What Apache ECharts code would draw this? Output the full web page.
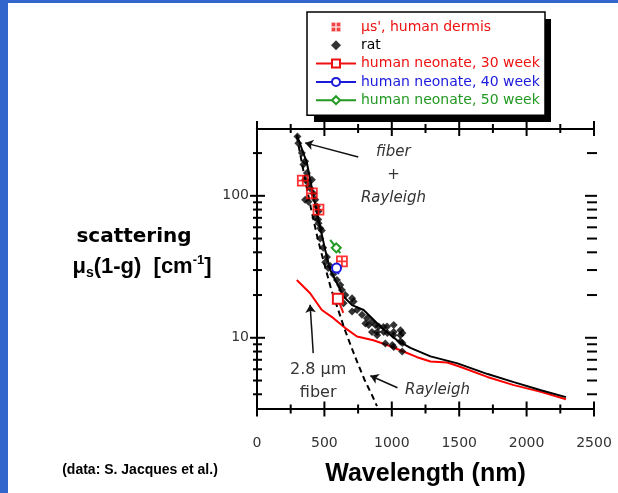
<!DOCTYPE html>
<html lang="en">
<head>
<meta charset="UTF-8">
<title>scattering vs wavelength</title>
<style>
  html, body { margin: 0; padding: 0; background: #fff; }
  #container { width: 618px; height: 493px; }
</style>
</head>
<body>
<div id="container"></div>
<script src="https://cdn.jsdelivr.net/npm/echarts@6/dist/echarts.min.js"></script>
<script>
// values: [wavelength nm, mu_s(1-g) cm^-1]
var dermisPts = [[340, 128], [407, 104], [456, 80], [630, 34.5]];
var ratPts = [
  [300, 262], [307, 235], [333, 200], [357, 175], [344, 166], [370, 145], [357, 130], [382, 123],
  [407, 130], [394, 113], [419, 104], [432, 94], [357, 94], [382, 91], [444, 84], [456, 78],
  [432, 70], [456, 64], [469, 59], [454, 68], [481, 57], [469, 50], [491, 43], [519, 37],
  [506, 34], [528, 31], [543, 32], [565, 28], [593, 25.5], [618, 23.5], [630, 21.7], [655, 20],
  [642, 17.5], [705, 19], [717, 18], [705, 15.3], [742, 15.7], [779, 14.5], [816, 13.7], [804, 12.6],
  [828, 12.3], [853, 13], [878, 12.3], [903, 12], [853, 11], [891, 11], [940, 11], [965, 12],
  [1014, 12.3], [1014, 11], [1064, 11.3], [1064, 10.4], [952, 9.1], [1014, 8.6], [1064, 9.4],
  [1077, 8], [891, 10.4], [938, 11.9], [967, 10.8], [1012, 10.4], [1079, 10.8], [1079, 9.2], [1004, 8.9]
];
var neo30 = [[600, 18.8], [640, 15]];
var neo40 = [[575, 33], [590, 31], [605, 28]];
var neo50 = [[543, 49], [588, 43], [618, 39.5]];
var fitLine = [
  [295, 269], [370, 171], [419, 99], [456, 68], [506, 41.6], [543, 30.1], [593, 24.2], [642, 19.5],
  [705, 17], [791, 15.7], [915, 12], [1039, 9.6], [1138, 8.5], [1287, 7.4], [1488, 6.6], [1711, 5.55],
  [1905, 4.87], [2106, 4.27], [2292, 3.82]
];
var fiberLine = [
  [295, 25.5], [394, 20.6], [481, 15.7], [565, 13.8], [655, 11.7], [742, 10.2], [863, 9.6], [965, 8.9],
  [1086, 8.0], [1188, 7.3], [1287, 6.8], [1411, 6.7], [1496, 6.3], [1709, 5.3], [1905, 4.64],
  [2106, 4.16], [2292, 3.69]
];
var rayleighLine = [
  [295, 265], [350, 140], [400, 82], [450, 50], [500, 33], [550, 22], [600, 16], [650, 11.5],
  [700, 8.6], [750, 6.5], [800, 5.0], [850, 4.0], [890, 3.3]
];

var X_MIN = 0, X_MAX = 2500;
var Y_MIN = 3.15, Y_MAX = 298;
var xMajorTicks = [0, 500, 1000, 1500, 2000, 2500];
var xMinorTicks = [250, 750, 1250, 1750, 2250];
var yMajorTicks = [10, 100];
var yMinorTicks = [4, 5, 6, 7, 8, 9, 20, 30, 40, 50, 60, 70, 80, 90, 200];

var names = {
  dermis: "\u03bcs', human dermis",
  rat: 'rat',
  n30: 'human neonate, 30 weeks',
  n40: 'human neonate, 40 weeks',
  n50: 'human neonate, 50 weeks'
};
var RED = '#ee1111', BLUE = '#1a1add', GREEN = '#229922';
var plusBox = 'path://M0,0 L10,0 L10,10 L0,10 Z M5,0 L5,10 M0,5 L10,5';

// legend box geometry (the hard shadow is a plain rect behind it)
var LEG_LEFT = 307, LEG_TOP = 12, LEG_W = 237, LEG_H = 103;

function withSymbolAt(pts, idx) {
  return pts.map(function (p, i) {
    return i === idx ? p : { value: p, symbol: 'none' };
  });
}

var xTickData = xMajorTicks.map(function (v) { return [v, Y_MIN, 1]; })
  .concat(xMinorTicks.map(function (v) { return [v, Y_MIN, 0]; }));
var yTickData = yMajorTicks.map(function (v) { return [X_MIN, v, 1]; })
  .concat(yMinorTicks.map(function (v) { return [X_MIN, v, 0]; }));

var tickStyle = { stroke: '#000', lineWidth: 2 };

function seg(x1, y1, x2, y2) {
  return { type: 'line', shape: { x1: x1, y1: y1, x2: x2, y2: y2 }, style: tickStyle };
}

var ele = document.getElementById('container');
var chart = echarts.init(ele, null, { renderer: 'canvas' });

var italicLabel = { show: true, position: 'inside', color: '#333', fontFamily: 'DejaVu Sans',
  fontStyle: 'italic', fontSize: 15, lineHeight: 23, formatter: '{b}' };

var option = {
  animation: false,
  backgroundColor: '#fff',
  grid: { left: 257, right: 24, top: 128.5, bottom: 84 },
  xAxis: [{
    type: 'value', min: X_MIN, max: X_MAX, interval: 500, position: 'bottom',
    axisLine: { onZero: false, lineStyle: { color: '#000', width: 2 } },
    axisTick: { show: false }, splitLine: { show: false },
    axisLabel: { margin: 27, color: '#333', fontSize: 14, fontFamily: 'DejaVu Sans',
      formatter: function (v) { return String(v); } },
    name: 'Wavelength (nm)', nameLocation: 'middle', nameGap: 53,
    nameTextStyle: { color: '#000', fontSize: 25, fontWeight: 'bold', fontFamily: 'Liberation Sans' }
  }, {
    type: 'value', min: X_MIN, max: X_MAX, position: 'top',
    axisLine: { onZero: false, lineStyle: { color: '#000', width: 2 } },
    axisTick: { show: false }, splitLine: { show: false }, axisLabel: { show: false }
  }],
  yAxis: [{
    type: 'log', logBase: 10, min: Y_MIN, max: Y_MAX, position: 'left',
    axisLine: { show: true, lineStyle: { color: '#000', width: 2 } },
    axisTick: { show: false }, splitLine: { show: false }, minorSplitLine: { show: false },
    axisLabel: { customValues: yMajorTicks, margin: 8, color: '#333', fontSize: 14, fontFamily: 'DejaVu Sans',
      formatter: function (v) { return String(Math.round(v)); } }
  }, {
    type: 'log', logBase: 10, min: Y_MIN, max: Y_MAX, position: 'right',
    axisLine: { show: true, lineStyle: { color: '#000', width: 2 } },
    axisTick: { show: false }, splitLine: { show: false }, axisLabel: { show: false }
  }],
  legend: {
    orient: 'vertical', left: LEG_LEFT, top: LEG_TOP, padding: [8, 0, 8, 8],
    itemGap: 4.3, itemWidth: 40, itemHeight: 10, selectedMode: false,
    backgroundColor: '#fff', borderColor: '#000', borderWidth: 1.5,
    textStyle: { fontFamily: 'DejaVu Sans', fontSize: 14, lineHeight: 14, width: 184,
      overflow: 'truncate', ellipsis: '' },
    data: [
      { name: names.dermis, textStyle: { color: RED }, itemStyle: { color: RED, borderColor: '#fff', borderWidth: 1.5 } },
      { name: names.rat, textStyle: { color: '#000' }, icon: 'path://M5,0 L10,5 L5,10 L0,5 Z' },
      { name: names.n30, textStyle: { color: RED } },
      { name: names.n40, textStyle: { color: BLUE } },
      { name: names.n50, textStyle: { color: GREEN } }
    ]
  },
  graphic: [
    { type: 'rect', shape: { x: 0, y: 0, width: 8, height: 493 }, style: { fill: '#3366cc' }, z: 100 },
    { type: 'rect', shape: { x: 0, y: 0, width: 618, height: 3 }, style: { fill: '#3366cc' }, z: 100 },
    { type: 'rect', shape: { x: LEG_LEFT + 7, y: LEG_TOP + 7, width: LEG_W, height: LEG_H }, style: { fill: '#000' }, z: 1 },
    { type: 'text', x: 134, y: 237, style: { text: 'scattering', fill: '#000',
      font: 'bold 20px "DejaVu Sans"', align: 'center', verticalAlign: 'middle' } },
    { type: 'text', x: 142, y: 267, style: {
      text: '{a|\u03bc}{sub|s}{a|(1-g)  [cm}{sup|-1}{a|]}', align: 'center', verticalAlign: 'middle',
      rich: {
        a: { fontFamily: 'Liberation Sans', fontWeight: 'bold', fontSize: 22, fill: '#000' },
        sub: { fontFamily: 'Liberation Sans', fontWeight: 'bold', fontSize: 14, fill: '#000', padding: [12, 0, 0, 0] },
        sup: { fontFamily: 'Liberation Sans', fontWeight: 'bold', fontSize: 13, fill: '#000', padding: [0, 0, 14, 0] }
      } } },
    { type: 'text', x: 140, y: 470, style: { text: '(data: S. Jacques et al.)', fill: '#000',
      font: 'bold 14px "Liberation Sans"', align: 'center', verticalAlign: 'middle' } }
  ],
  series: [{
    name: 'fiber', type: 'line', data: fiberLine, showSymbol: false, silent: true,
    lineStyle: { color: '#ff0000', width: 2 }, z: 2
  }, {
    name: 'fiber + Rayleigh', type: 'line', data: fitLine, showSymbol: false, silent: true,
    lineStyle: { color: '#000', width: 2 }, z: 3
  }, {
    name: 'Rayleigh', type: 'line', data: rayleighLine, showSymbol: false, silent: true,
    lineStyle: { color: '#000', width: 2, type: [6, 4] }, z: 3,
    markLine: {
      silent: true, symbol: ['none', 'arrow'], symbolSize: 8, label: { show: false },
      lineStyle: { color: '#111', width: 1.5, type: 'solid' },
      data: [
        [{ coord: [751, 188] }, { coord: [357, 236] }],
        [{ coord: [417, 7.8] }, { coord: [394, 17.1] }],
        [{ coord: [1042, 4.45] }, { coord: [841, 5.4] }]
      ]
    },
    markPoint: {
      silent: true, symbol: 'circle', symbolSize: 1, itemStyle: { color: 'rgba(0,0,0,0)' },
      data: [
        { name: 'fiber\n+\nRayleigh', coord: [1012, 140], label: italicLabel },
        { name: 'Rayleigh', coord: [1339, 4.31], label: italicLabel },
        { name: '2.8 \u03bcm\nfiber', coord: [454, 4.9], label: {
          show: true, position: 'inside', color: '#333', fontFamily: 'DejaVu Sans',
          fontSize: 16, lineHeight: 23, formatter: '{b}' } }
      ]
    }
  }, {
    name: names.rat, type: 'scatter', data: ratPts, symbol: 'diamond', symbolSize: 8,
    itemStyle: { color: '#000' }, z: 4
  }, {
    name: names.dermis, type: 'scatter', data: dermisPts, symbol: plusBox, symbolSize: 10,
    itemStyle: { color: 'rgba(0,0,0,0)', borderColor: '#ff0000', borderWidth: 1.8 }, z: 5
  }, {
    name: names.n30, type: 'line', data: withSymbolAt(neo30, 0), symbol: 'emptyRect', symbolSize: 10,
    itemStyle: { color: RED, borderWidth: 1.6 }, lineStyle: { color: RED, width: 2 }, z: 6
  }, {
    name: names.n40, type: 'line', data: withSymbolAt(neo40, 1), symbol: 'emptyCircle', symbolSize: 9,
    itemStyle: { color: BLUE, borderWidth: 1.6 }, lineStyle: { color: BLUE, width: 2 }, z: 6
  }, {
    name: names.n50, type: 'line', data: withSymbolAt(neo50, 1), symbol: 'emptyDiamond', symbolSize: 9,
    itemStyle: { color: GREEN, borderWidth: 1.6 }, lineStyle: { color: GREEN, width: 2 }, z: 6
  }, {
    // axis ticks, crossing the frame, drawn through the axes
    type: 'custom', data: xTickData, clip: false, silent: true, z: 10,
    renderItem: function (params, api) {
      var v = api.value(0), major = api.value(2);
      var b = api.coord([v, Y_MIN]), t = api.coord([v, Y_MAX]);
      var len = major ? 7.5 : 4.5;
      return { type: 'group', children: [
        seg(b[0], b[1] - len, b[0], b[1] + len),
        seg(t[0], t[1] - len, t[0], t[1] + len)
      ] };
    }
  }, {
    type: 'custom', data: yTickData, clip: false, silent: true, z: 10,
    renderItem: function (params, api) {
      var v = api.value(1), major = api.value(2);
      var l = api.coord([X_MIN, v]), r = api.coord([X_MAX, v]);
      return { type: 'group', children: [
        major ? seg(l[0] - 7, l[1], l[0] + 8, l[1]) : seg(l[0] - 4, l[1], l[0] + 5, l[1]),
        major ? seg(r[0] - 9, r[1], r[0] + 3, r[1]) : seg(r[0] - 7, r[1], r[0] + 3, r[1])
      ] };
    }
  }]
};
chart.setOption(option);
</script>
</body>
</html>
